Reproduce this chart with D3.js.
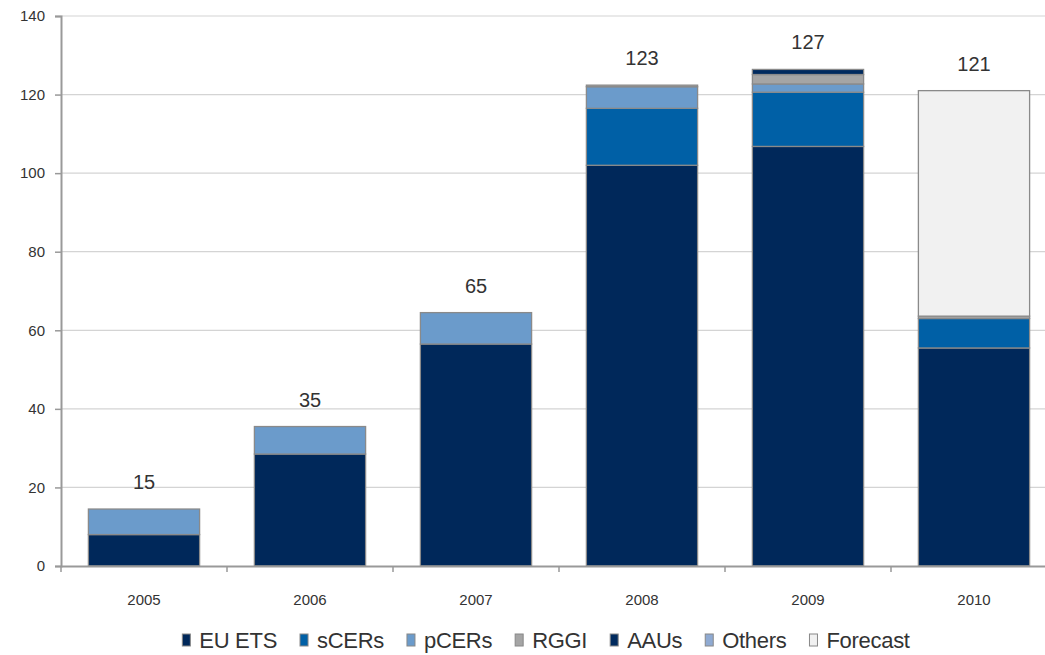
<!DOCTYPE html>
<html>
<head>
<meta charset="utf-8">
<script src="https://cdn.jsdelivr.net/npm/d3@7"></script>
<style>
  body { margin: 0; background: #fff; }
  text { font-family: "Liberation Sans", Arial, sans-serif; fill: #333; }
</style>
</head>
<body>
<div id="chart"></div>
<script>
const years = ["2005", "2006", "2007", "2008", "2009", "2010"];
const seriesNames = ["EU ETS", "sCERs", "pCERs", "RGGI", "AAUs", "Others", "Forecast"];
const euEts = [8, 28.5, 56.5, 102, 106.8, 55.5];
const sCers = [0, 0, 0, 14.5, 13.8, 7.5];
const pCers = [6.5, 7, 8, 5.5, 2.1, 0];
const rggi = [0, 0, 0, 0.4, 2.4, 0.6];
const aaus = [0, 0, 0, 0, 1.3, 0];
const others = [0, 0, 0, 0, 0, 0];
const forecast = [0, 0, 0, 0, 0, 57.4];
const totalLabels = ["15", "35", "65", "123", "127", "121"];
const yTicks = [0, 20, 40, 60, 80, 100, 120, 140];

const colors = ["#00285a", "#0060a6", "#6b9bcb", "#a5a5a5", "#002a5e", "#8faad2", "#f1f1f1"];

const width = 1045, height = 655;
const margin = { top: 16, right: 0, bottom: 89, left: 61 };
const plotRight = 1057;

const svg = d3.select("#chart").append("svg")
  .attr("width", width)
  .attr("height", height);

const rows = years.map((y, i) => ({
  year: y,
  "EU ETS": euEts[i], "sCERs": sCers[i], "pCERs": pCers[i], "RGGI": rggi[i],
  "AAUs": aaus[i], "Others": others[i], "Forecast": forecast[i]
}));

const x = d3.scaleBand().domain(years).range([margin.left, plotRight]).paddingInner(0.33).paddingOuter(0.165);
const xOuter = d3.scaleBand().domain(years).range([margin.left, plotRight]);
const y = d3.scaleLinear().domain([0, 140]).range([height - margin.bottom, margin.top]);
const color = d3.scaleOrdinal().domain(seriesNames).range(colors);

// gridlines
svg.append("g")
  .selectAll("line")
  .data(yTicks.filter(d => d > 0))
  .join("line")
  .attr("x1", margin.left).attr("x2", width)
  .attr("y1", d => y(d)).attr("y2", d => y(d))
  .attr("stroke", "#d4d4d4").attr("stroke-width", 1.2);

// bars
const stack = d3.stack().keys(seriesNames);
const layers = stack(rows);

svg.append("g")
  .selectAll("g")
  .data(layers)
  .join("g")
  .attr("fill", d => color(d.key))
  .selectAll("rect")
  .data(d => d.filter(p => p[1] - p[0] > 0))
  .join("rect")
  .attr("x", d => x(d.data.year))
  .attr("width", x.bandwidth())
  .attr("y", d => y(d[1]))
  .attr("height", d => y(d[0]) - y(d[1]))
  .attr("stroke", "#8a8a8a")
  .attr("stroke-width", 1.3);

// total labels above each stack
svg.append("g")
  .selectAll("text")
  .data(rows)
  .join("text")
  .attr("x", d => x(d.year) + x.bandwidth() / 2)
  .attr("y", d => y(d3.sum(seriesNames, k => d[k])) - 20)
  .attr("text-anchor", "middle")
  .style("font-size", "20px")
  .text((d, i) => totalLabels[i]);

// y axis
const yAxis = svg.append("g")
  .attr("transform", `translate(${margin.left},0)`)
  .call(d3.axisLeft(y).tickValues(yTicks).tickSize(6).tickPadding(10));
yAxis.select(".domain").attr("stroke", "#999").attr("stroke-width", 2);
yAxis.selectAll(".tick line").attr("stroke", "#999").attr("stroke-width", 1.5);
yAxis.selectAll(".tick text").style("font-size", "15px").style("fill", "#333");

// x axis
const xAxis = svg.append("g")
  .attr("transform", `translate(0,${y(0)})`)
  .call(d3.axisBottom(xOuter).tickSize(0).tickPadding(28));
xAxis.select(".domain").attr("stroke", "#999").attr("stroke-width", 2);
xAxis.selectAll(".tick text").style("font-size", "15px").style("fill", "#333");
svg.append("g")
  .selectAll("line")
  .data(years)
  .join("line")
  .attr("x1", d => xOuter(d)).attr("x2", d => xOuter(d))
  .attr("y1", y(0)).attr("y2", y(0) + 6)
  .attr("stroke", "#999").attr("stroke-width", 1.5);

// legend
const legend = svg.append("g").attr("transform", `translate(0,648)`);
const items = legend.selectAll("g")
  .data(seriesNames)
  .join("g");
items.append("rect")
  .attr("y", -14).attr("width", 8).attr("height", 12)
  .attr("fill", d => color(d))
  .attr("stroke", "#888").attr("stroke-width", 1);
items.append("text")
  .attr("x", 17)
  .style("font-size", "22px")
  .style("letter-spacing", "-0.3px")
  .text(d => d);
const gap = 23;
const widthsL = [];
items.each(function () {
  widthsL.push(17 + this.querySelector("text").getComputedTextLength());
});
const totalW = d3.sum(widthsL) + gap * (widthsL.length - 1);
let cx = 546 - totalW / 2;
items.attr("transform", (d, i) => {
  const t = `translate(${cx},0)`;
  cx += widthsL[i] + gap;
  return t;
});
</script>
</body>
</html>
